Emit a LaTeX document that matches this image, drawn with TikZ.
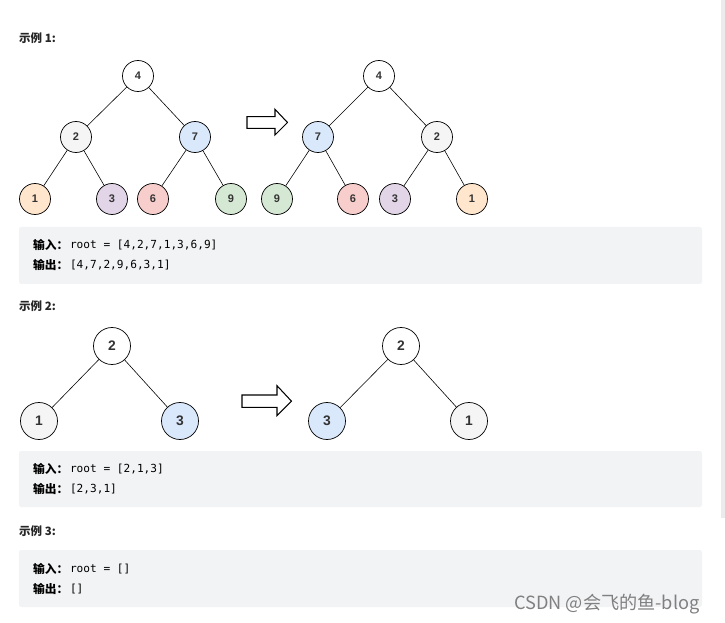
\documentclass[tikz,border=0pt]{standalone}
\usepackage{fontspec}
\setmainfont{Liberation Sans}
\setmonofont{DejaVu Sans Mono}
\newfontfamily\cjk{Noto Sans CJK SC}
\usetikzlibrary{calc}

\definecolor{codebg}{HTML}{F2F3F5}
\definecolor{nwhite}{HTML}{FFFFFF}
\definecolor{ngray}{HTML}{F5F5F5}
\definecolor{nblue}{HTML}{DAE8FC}
\definecolor{norange}{HTML}{FFE6CC}
\definecolor{npurple}{HTML}{E1D5E7}
\definecolor{nred}{HTML}{F8CECC}
\definecolor{ngreen}{HTML}{D5E8D4}
\definecolor{textdark}{HTML}{333333}

\begin{document}
\begin{tikzpicture}[x=0.03cm, y=-0.03cm,
    small/.style={circle, draw, line width=0.6pt, minimum size=0.93cm, inner sep=0pt,
      font=\fontsize{9.4}{10}\selectfont\bfseries, text=textdark},
    big/.style={circle, draw, line width=0.6pt, minimum size=1.11cm, inner sep=0pt,
      font=\fontsize{11.8}{13}\selectfont\bfseries, text=textdark},
    edge/.style={line width=0.5pt},
    bigarrow/.style={draw, line width=0.9pt, fill=white},
    codebox/.style={fill=codebg, rounded corners=2pt},
    title/.style={anchor=west, inner sep=0pt, font=\cjk\fontsize{9.8}{11}\selectfont\bfseries, text=black!85},
    code/.style={anchor=west, inner sep=0pt, font=\ttfamily\fontsize{9.5}{11}\selectfont},
    codekey/.style={anchor=west, inner sep=0pt, font=\cjk\fontsize{10}{11}\selectfont\bfseries}]
  \useasboundingbox[fill=white] (0,0) rectangle (725,623);
  \fill[black!8] (720.7,0) rectangle (725,518);

  % example 1
  \node[title] (t1) at (19,38) {示例 1:};
  \node[small, fill=nwhite]  (a4) at (138,76) {4};
  \node[small, fill=ngray]   (a2) at (76,137) {2};
  \node[small, fill=nblue]   (a7) at (195,137) {7};
  \node[small, fill=norange] (a1) at (35,199) {1};
  \node[small, fill=npurple] (a3) at (112,199) {3};
  \node[small, fill=nred]    (a6) at (153,199) {6};
  \node[small, fill=ngreen]  (a9) at (231,199) {9};
  \draw[edge] (a4) -- (a2);
  \draw[edge] (a4) -- (a7);
  \draw[edge] (a2) -- (a1);
  \draw[edge] (a2) -- (a3);
  \draw[edge] (a7) -- (a6);
  \draw[edge] (a7) -- (a9);

  \draw[bigarrow] (247,116.7) -- (275,116.7) -- (275,109.3) -- (287.5,122.5)
    -- (275,135) -- (275,128.3) -- (247,128.3) -- cycle;

  \node[small, fill=nwhite]  (b4) at (379,76) {4};
  \node[small, fill=nblue]   (b7) at (318,137) {7};
  \node[small, fill=ngray]   (b2) at (437,137) {2};
  \node[small, fill=ngreen]  (b9) at (277,199) {9};
  \node[small, fill=nred]    (b6) at (353,199) {6};
  \node[small, fill=npurple] (b3) at (395,199) {3};
  \node[small, fill=norange] (b1) at (472,199) {1};
  \draw[edge] (b4) -- (b7);
  \draw[edge] (b4) -- (b2);
  \draw[edge] (b7) -- (b9);
  \draw[edge] (b7) -- (b6);
  \draw[edge] (b2) -- (b3);
  \draw[edge] (b2) -- (b1);

  \fill[codebox] (19,227) rectangle (702,284);
  \node[codekey] (in1) at (33,245) {输入：};
  \node[code] at ([xshift=1pt]in1.east) {root = [4,2,7,1,3,6,9]};
  \node[codekey] (out1) at (33,265) {输出：};
  \node[code] at ([xshift=1pt]out1.east) {[4,7,2,9,6,3,1]};

  % example 2
  \node[title] (t2) at (19,306) {示例 2:};
  \node[big, fill=nwhite] (c2) at (112,346) {2};
  \node[big, fill=ngray]  (c1) at (39,421) {1};
  \node[big, fill=nblue]  (c3) at (180,421) {3};
  \draw[edge] (c2) -- (c1);
  \draw[edge] (c2) -- (c3);

  \draw[bigarrow] (242,395) -- (277,395) -- (277,385.7) -- (291.5,401.2)
    -- (277,415.7) -- (277,407.3) -- (242,407.3) -- cycle;

  \node[big, fill=nwhite] (d2) at (401,346) {2};
  \node[big, fill=nblue]  (d3) at (327,421) {3};
  \node[big, fill=ngray]  (d1) at (469,421) {1};
  \draw[edge] (d2) -- (d3);
  \draw[edge] (d2) -- (d1);

  \fill[codebox] (19,451) rectangle (702,507);
  \node[codekey] (in2) at (33,469) {输入：};
  \node[code] at ([xshift=1pt]in2.east) {root = [2,1,3]};
  \node[codekey] (out2) at (33,489) {输出：};
  \node[code] at ([xshift=1pt]out2.east) {[2,3,1]};

  % example 3
  \node[title] (t3) at (19,531) {示例 3:};
  \fill[codebox] (19,550) rectangle (702,607);
  \node[codekey] (in3) at (33,569) {输入：};
  \node[code] at ([xshift=1pt]in3.east) {root = []};
  \node[codekey] (out3) at (33,589) {输出：};
  \node[code] at ([xshift=1pt]out3.east) {[]};

  \node[anchor=west, inner sep=0pt, text=black!50, font=\cjk\fontsize{15.5}{17}\selectfont]
    (mark) at (514,604) {CSDN @会飞的鱼-blog};
\end{tikzpicture}
\end{document}
